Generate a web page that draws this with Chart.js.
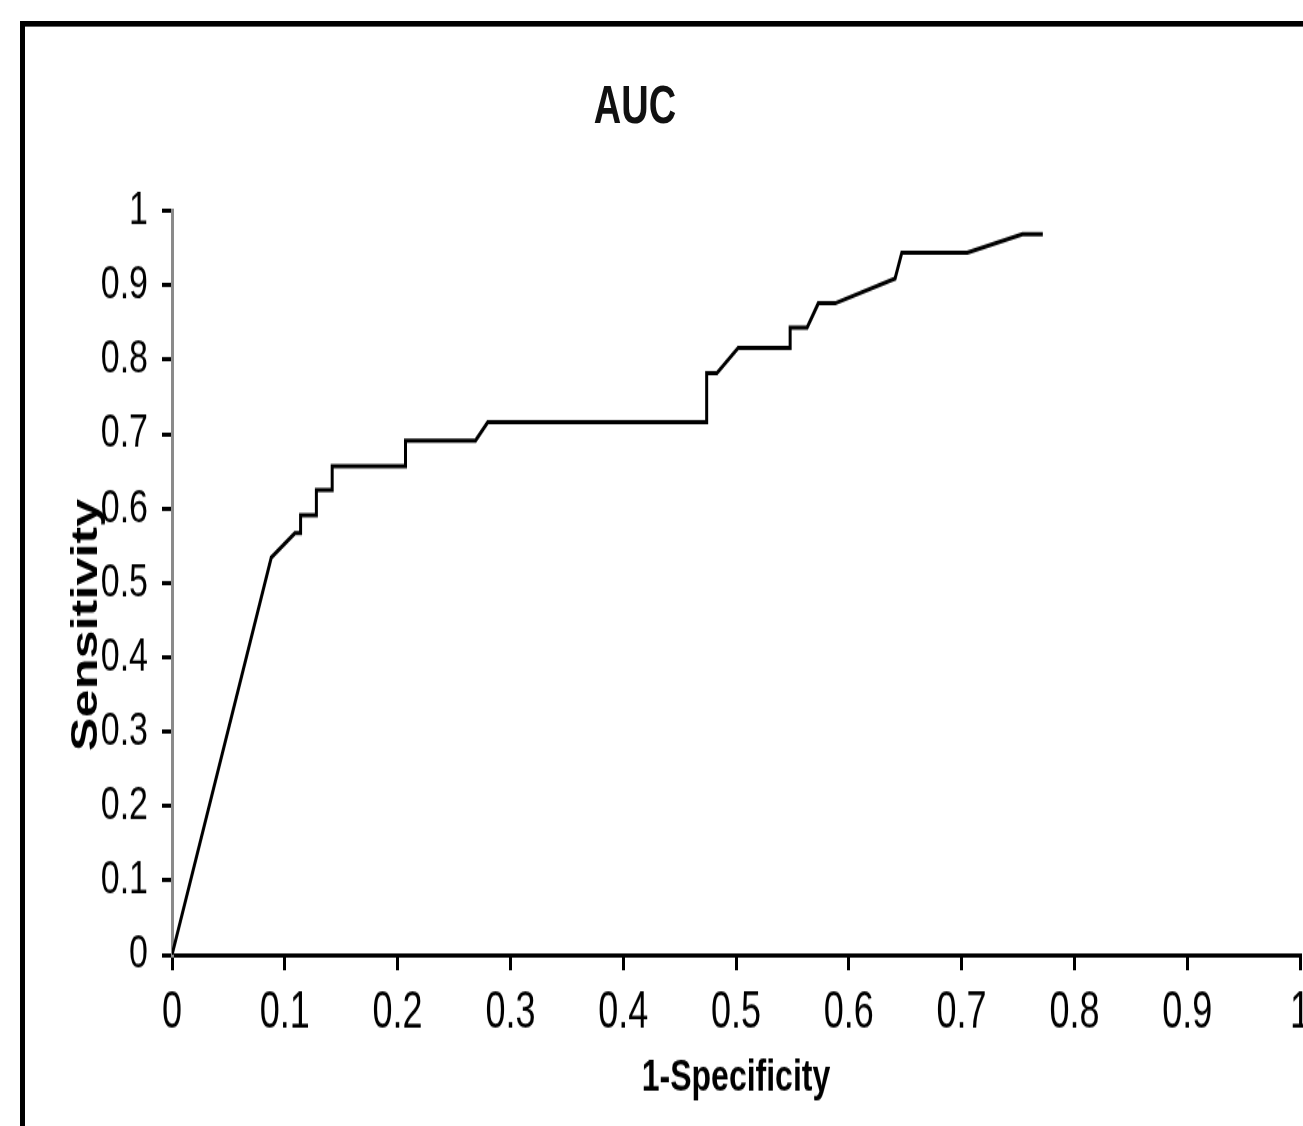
<!DOCTYPE html>
<html>
<head>
<meta charset="utf-8">
<script src="https://cdn.jsdelivr.net/npm/chart.js@4.4.1/dist/chart.umd.min.js"></script>
<style>
  html, body { margin: 0; padding: 0; background: #fff; overflow: hidden; width: 1303px; height: 1126px; }
  /* the original figure is stretched vertically, so draw at 1/1.4 height and scale */
  #stage { position: absolute; left: 0; top: 0; width: 1420px; height: 804px; transform-origin: 0 0; transform: scaleY(1.4); }
  #frame { position: absolute; left: 20px; top: 15px; width: 2000px; height: 2000px; border-left: 5px solid #000; border-top: 4px solid #000; }
  #title { position: absolute; left: 0; top: 53px; width: 1270px; text-align: center; font: bold 38px/44px "Liberation Sans", Arial, sans-serif; color: #111; }
  #roc { position: absolute; left: 0; top: 0; }
</style>
</head>
<body>
<div id="stage">
  <div id="frame"></div>
  <div id="title">AUC</div>
  <canvas id="roc" width="1420" height="804"></canvas>
</div>
<script>
// ROC curve points
const falsePositiveRate = [0, 0.088, 0.109, 0.114, 0.114, 0.128, 0.128, 0.142, 0.142, 0.207, 0.207, 0.269, 0.280,
  0.474, 0.474, 0.483, 0.502, 0.548, 0.548, 0.563, 0.573, 0.588, 0.641, 0.647, 0.705, 0.754, 0.772];
const sensitivity = [0, 0.534, 0.567, 0.567, 0.591, 0.591, 0.625, 0.625, 0.657, 0.657, 0.691, 0.691, 0.716,
  0.716, 0.782, 0.782, 0.816, 0.816, 0.843, 0.843, 0.876, 0.876, 0.909, 0.944, 0.944, 0.969, 0.969];

// Tick labels
const xTickLabels = ['0', '0.1', '0.2', '0.3', '0.4', '0.5', '0.6', '0.7', '0.8', '0.9', '1'];
const yTickLabels = ['0', '0.1', '0.2', '0.3', '0.4', '0.5', '0.6', '0.7', '0.8', '0.9', '1'];

const points = falsePositiveRate.map((x, i) => ({ x: x, y: sensitivity[i] }));

new Chart(document.getElementById('roc').getContext('2d'), {
  type: 'scatter',
  data: {
    datasets: [{
      label: 'ROC',
      data: points,
      showLine: true,
      borderColor: '#000',
      borderWidth: 3,
      pointRadius: 0,
      tension: 0,
      fill: false
    }]
  },
  options: {
    responsive: false,
    animation: false,
    layout: { padding: { left: 0, top: 150.7, right: 120, bottom: 0 } },
    plugins: {
      legend: { display: false },
      title: { display: false },
      tooltip: { enabled: false }
    },
    scales: {
      x: {
        type: 'linear',
        min: 0,
        max: 1,
        ticks: {
          stepSize: 0.1,
          padding: 9,
          color: '#000',
          font: { family: '"Liberation Sans", Arial, sans-serif', size: 36 },
          maxRotation: 0,
          callback: function(value, index) { return xTickLabels[index]; }
        },
        grid: { drawOnChartArea: false, drawTicks: true, tickLength: 11, color: '#000', lineWidth: 3 },
        border: { display: true, color: '#000', width: 3 },
        title: {
          display: true,
          text: '1-Specificity',
          color: '#000',
          font: { family: '"Liberation Sans", Arial, sans-serif', size: 32, weight: 'bold' },
          padding: { top: 0, bottom: 15 }
        },
        afterFit: function(scale) { scale.height = 122; }
      },
      y: {
        type: 'linear',
        min: 0,
        max: 1,
        ticks: {
          stepSize: 0.1,
          padding: 14,
          color: '#000',
          font: { family: '"Liberation Sans", Arial, sans-serif', size: 34 },
          callback: function(value, index) { return yTickLabels[index]; }
        },
        grid: { drawOnChartArea: false, drawTicks: true, tickLength: 10, color: '#000', lineWidth: 3 },
        border: { display: true, color: '#8a8a8a', width: 3 },
        title: {
          display: true,
          // trailing spaces push the word down, as in the original
          text: 'Sensitivity\u00a0\u00a0\u00a0\u00a0\u00a0\u00a0',
          color: '#000',
          font: { family: '"Liberation Sans", Arial, sans-serif', size: 36, weight: 'bold' },
          padding: { top: 65, bottom: 0 }
        },
        afterFit: function(scale) { scale.width = 172; }
      }
    }
  }
});
</script>
</body>
</html>
